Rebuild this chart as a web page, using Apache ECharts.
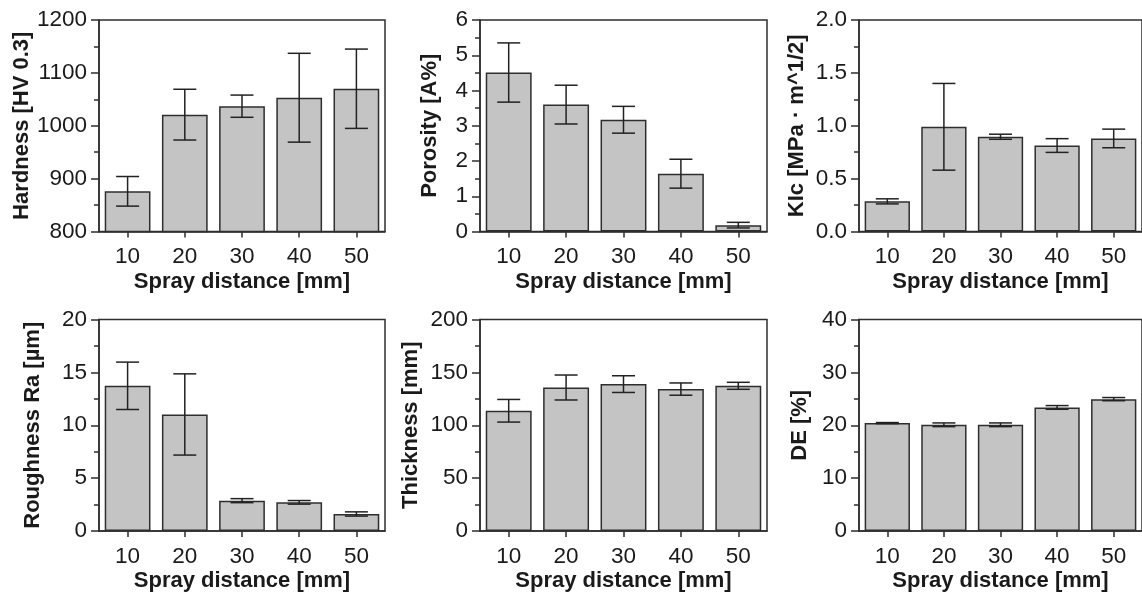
<!DOCTYPE html>
<html>
<head>
<meta charset="utf-8">
<title>Coating properties vs. spray distance</title>
<script src="https://cdn.jsdelivr.net/npm/echarts@6/dist/echarts.min.js"></script>
<style>
  html, body { margin: 0; padding: 0; background: #fff; }
  #chart { width: 1142px; height: 596px; }
</style>
</head>
<body>
<div id="chart"></div>
<script>
// Spray distance categories shared by all panels
const categories = ['10', '20', '30', '40', '50'];

// Means and standard deviations for each measured property
const hardness = [876, 1021, 1037, 1053, 1070];
const hardnessErr = [28, 48, 21, 84, 75];

const porosity = [4.51, 3.60, 3.17, 1.64, 0.18];
const porosityErr = [0.84, 0.55, 0.38, 0.41, 0.08];

const toughness = [0.285, 0.99, 0.896, 0.813, 0.88];
const toughnessErr = [0.024, 0.41, 0.024, 0.065, 0.088];

const roughness = [13.73, 11.02, 2.87, 2.71, 1.61];
const roughnessErr = [2.24, 3.84, 0.19, 0.17, 0.2];

const thickness = [113.7, 135.7, 138.9, 134.2, 137.3];
const thicknessErr = [10.7, 11.8, 7.9, 5.8, 3.3];

const deposition = [20.41, 20.09, 20.09, 23.37, 24.94];
const depositionErr = [0.1, 0.35, 0.35, 0.35, 0.3];

// Axis titles and value ranges
const yTitles = ['Hardness [HV 0.3]', 'Porosity [A%]', 'KIc [MPa · m^1/2]',
                 'Roughness Ra [µm]', 'Thickness [mm]', 'DE [%]'];
const yMin = [800, 0, 0, 0, 0, 0];
const yMax = [1200, 6, 2, 20, 200, 40];
const yStep = [100, 1, 0.5, 5, 50, 10];
const xTitle = 'Spray distance [mm]';

const panels = [
  { mean: hardness, err: hardnessErr },
  { mean: porosity, err: porosityErr },
  { mean: toughness, err: toughnessErr },
  { mean: roughness, err: roughnessErr },
  { mean: thickness, err: thicknessErr },
  { mean: deposition, err: depositionErr }
];

// Grid placement: three columns, two rows
const colLeft = [99, 480, 859];
const colWidth = [286, 287, 288];
const rowTop = [20, 319.5];
const plotHeight = 211.5;
const nameGaps = [63, 39, 51, 55, 58, 48];
const yDecimals = [0, 0, 1, 0, 0, 0];

const FONT = '"Liberation Sans", Arial, Helvetica, sans-serif';
const INK = '#1a1a1a';
const LINE = '#2e2e2e';

function errorBarRenderer(params, api) {
  const x = api.value(0);
  const top = api.coord([x, api.value(2)]);
  const bot = api.coord([x, api.value(1)]);
  const hw = 11.5;
  const style = { stroke: '#222', lineWidth: 1.5 };
  return {
    type: 'group',
    children: [
      { type: 'line', shape: { x1: top[0], y1: top[1], x2: bot[0], y2: bot[1] }, style: style },
      { type: 'line', shape: { x1: top[0] - hw, y1: top[1], x2: top[0] + hw, y2: top[1] }, style: style },
      { type: 'line', shape: { x1: bot[0] - hw, y1: bot[1], x2: bot[0] + hw, y2: bot[1] }, style: style }
    ]
  };
}

const grid = [], xAxis = [], yAxis = [], series = [];

panels.forEach(function (p, i) {
  const col = i % 3, row = Math.floor(i / 3);
  grid.push({
    left: colLeft[col], top: rowTop[row], width: colWidth[col], height: plotHeight,
    show: true, borderColor: LINE, borderWidth: 1.5, backgroundColor: 'transparent',
    containLabel: false
  });
  xAxis.push({
    type: 'category', gridIndex: i, data: categories,
    axisLine: { show: true, lineStyle: { color: LINE, width: 1.5 } },
    axisTick: { show: true, alignWithLabel: true, length: 6, lineStyle: { color: LINE, width: 1.5 } },
    axisLabel: { fontSize: 22.5, color: INK, fontFamily: FONT, margin: 14 },
    splitLine: { show: false },
    name: xTitle, nameLocation: 'middle', nameGap: 39,
    nameTextStyle: { fontSize: 22, fontWeight: 'bold', color: INK, fontFamily: FONT }
  });
  yAxis.push({
    type: 'value', gridIndex: i, min: yMin[i], max: yMax[i], interval: yStep[i],
    axisLine: { show: true, lineStyle: { color: LINE, width: 1.5 } },
    axisTick: { show: true, length: 8, lineStyle: { color: LINE, width: 1.5 } },
    minorTick: { show: true, splitNumber: 2, length: 5, lineStyle: { color: LINE, width: 1.5 } },
    splitLine: { show: false },
    axisLabel: {
      fontSize: 22.5, color: INK, fontFamily: FONT, margin: 12,
      formatter: (function (d) { return function (v) { return v.toFixed(d); }; })(yDecimals[i])
    },
    name: yTitles[i], nameLocation: 'middle', nameGap: nameGaps[i],
    nameTextStyle: { fontSize: 22, fontWeight: 'bold', color: INK, fontFamily: FONT }
  });
  series.push({
    type: 'bar', xAxisIndex: i, yAxisIndex: i, data: p.mean,
    barCategoryGap: '20%',
    itemStyle: { color: '#c4c4c4', borderColor: LINE, borderWidth: 1.5 },
    animation: false, silent: true
  });
  series.push({
    type: 'custom', xAxisIndex: i, yAxisIndex: i,
    data: p.mean.map(function (m, k) { return [k, m - p.err[k], m + p.err[k]]; }),
    encode: { x: 0, y: [1, 2] },
    renderItem: errorBarRenderer,
    z: 5, animation: false, silent: true
  });
});

const chart = echarts.init(document.getElementById('chart'), null, { renderer: 'canvas' });
chart.setOption({
  animation: false,
  backgroundColor: '#ffffff',
  textStyle: { fontFamily: FONT },
  grid: grid, xAxis: xAxis, yAxis: yAxis, series: series
});
</script>
</body>
</html>
